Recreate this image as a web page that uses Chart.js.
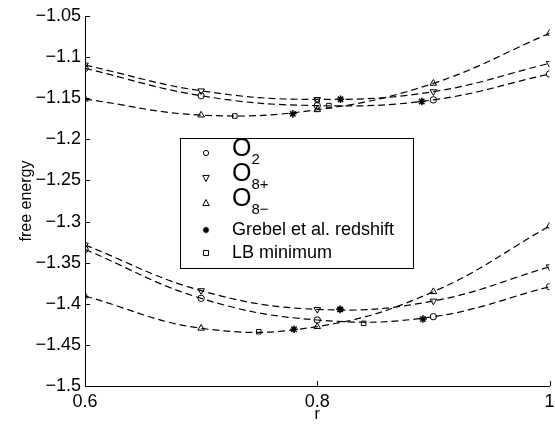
<!DOCTYPE html>
<html>
<head>
    <title>free energy vs r</title>
    <script src="https://cdn.jsdelivr.net/npm/chart.js"></script>
    <style>
        body {
            margin: 0;
            padding: 0;
            background: #fff;
        }
        #chart-container {
            width: 555px;
            height: 429px;
        }
    </style>
</head>
<body>

<div id="chart-container">
    <canvas id="energyChart" width="555" height="429"></canvas>
</div>

<script>
    // r values where the three fits were sampled
    const rValues = [0.6, 0.7, 0.8, 0.9, 1.0];

    // upper family
    const o2Upper  = [-1.1136, -1.147, -1.159, -1.152, -1.1205];
    const o8pUpper = [-1.1096, -1.141, -1.1515, -1.142, -1.1076];
    const o8mUpper = [-1.151, -1.1705, -1.164, -1.1319, -1.071];

    // lower family
    const o2Lower  = [-1.3338, -1.3934, -1.4197, -1.4157, -1.3792];
    const o8pLower = [-1.3285, -1.384, -1.4068, -1.3966, -1.355];
    const o8mLower = [-1.3905, -1.4298, -1.4278, -1.3853, -1.3054];

    // Grebel et al. redshift markers
    const grebelR = [0.779, 0.82, 0.89, 0.780, 0.8195, 0.891];
    const grebelF = [-1.169, -1.1513, -1.154, -1.431, -1.4068, -1.4185];

    // LB minimum markers
    const lbR = [0.729, 0.80, 0.81, 0.7496, 0.82, 0.840];
    const lbF = [-1.1716, -1.152, -1.159, -1.434, -1.4068, -1.4238];

    const yTicks = [-1.5, -1.45, -1.4, -1.35, -1.3, -1.25, -1.2, -1.15, -1.1, -1.05];
    const xTicks = [0.6, 0.8, 1];

    function pairs(xs, ys) {
        return xs.map((x, i) => ({x: x, y: ys[i]}));
    }

    function fitLine(ys, style, rot) {
        return {
            data: pairs(rValues, ys),
            showLine: true,
            tension: 0.4,
            borderColor: '#000',
            borderWidth: 1.2,
            borderDash: [7, 4],
            pointStyle: style,
            rotation: rot,
            pointRadius: style === 'circle' ? 3.2 : 3.8,
            pointBorderWidth: 1,
            pointBorderColor: '#000',
            pointBackgroundColor: 'rgba(0,0,0,0)'
        };
    }

    function markerSet(xs, ys, style, r) {
        return {
            data: pairs(xs, ys),
            showLine: false,
            pointStyle: style,
            pointRadius: r,
            pointBorderWidth: style === 'star' ? 1.5 : 1,
            pointBorderColor: '#000',
            pointBackgroundColor: 'rgba(0,0,0,0)'
        };
    }

    function fmt(v) {
        const s = String(Math.round(v * 100) / 100);
        return s.replace('-', '\u2212');
    }

    function drawMarker(ctx, style, x, y, r, rot) {
        ctx.save();
        ctx.translate(x, y);
        ctx.rotate((rot || 0) * Math.PI / 180);
        ctx.beginPath();
        if (style === 'circle') {
            ctx.arc(0, 0, r, 0, Math.PI * 2);
        } else if (style === 'triangle') {
            ctx.moveTo(0, -r * 1.1);
            ctx.lineTo(r, r * 0.8);
            ctx.lineTo(-r, r * 0.8);
            ctx.closePath();
        } else if (style === 'rect') {
            ctx.rect(-r * 0.8, -r * 0.8, r * 1.6, r * 1.6);
        } else if (style === 'star') {
            for (let a = 0; a < 4; a++) {
                const t = a * Math.PI / 4;
                ctx.moveTo(-r * Math.cos(t), -r * Math.sin(t));
                ctx.lineTo(r * Math.cos(t), r * Math.sin(t));
            }
            ctx.lineWidth = 1.5;
        }
        ctx.strokeStyle = '#000';
        ctx.stroke();
        ctx.restore();
    }

    const legendRows = [
        {style: 'circle', rot: 0, main: 'O', sub: '2', y: 153},
        {style: 'triangle', rot: 180, main: 'O', sub: '8+', y: 178},
        {style: 'triangle', rot: 0, main: 'O', sub: '8\u2212', y: 203},
        {style: 'star', rot: 0, main: 'Grebel et al. redshift', sub: '', y: 230},
        {style: 'rect', rot: 0, main: 'LB minimum', sub: '', y: 253}
    ];

    const boxPlugin = {
        id: 'boxPlugin',
        afterDraw(chart) {
            const ctx = chart.ctx;
            const xs = chart.scales.x;
            const ys = chart.scales.y;
            const area = chart.chartArea;

            // inward tick marks
            ctx.save();
            ctx.strokeStyle = '#000';
            ctx.lineWidth = 1;
            ctx.beginPath();
            yTicks.forEach(v => {
                const py = Math.round(ys.getPixelForValue(v)) + 0.5;
                ctx.moveTo(area.left, py);
                ctx.lineTo(area.left + 5, py);
            });
            xTicks.forEach(v => {
                const px = Math.round(xs.getPixelForValue(v)) + 0.5;
                ctx.moveTo(px, area.bottom);
                ctx.lineTo(px, area.bottom - 5);
            });
            ctx.stroke();

            // legend box
            ctx.fillStyle = '#fff';
            ctx.fillRect(180, 138, 233, 130);
            ctx.strokeRect(180.5, 138.5, 233, 130);

            legendRows.forEach(row => {
                drawMarker(ctx, row.style, 206, row.y, row.style === 'circle' ? 2.6 : 3.2, row.rot);
                ctx.fillStyle = '#000';
                ctx.textBaseline = 'middle';
                ctx.textAlign = 'left';
                if (row.sub) {
                    ctx.font = '25px "Liberation Sans", Arial, sans-serif';
                    ctx.fillText(row.main, 232, row.y - 4);
                    const w = ctx.measureText(row.main).width;
                    ctx.font = '15px "Liberation Sans", Arial, sans-serif';
                    ctx.fillText(row.sub, 232 + w, row.y + 7);
                } else {
                    ctx.font = '18px "Liberation Sans", Arial, sans-serif';
                    ctx.fillText(row.main, 232, row.y);
                }
            });
            ctx.restore();
        }
    };

    Chart.defaults.font.family = '"Liberation Sans", Arial, sans-serif';
    Chart.defaults.color = '#000';

    new Chart(document.getElementById('energyChart'), {
        type: 'scatter',
        data: {
            datasets: [
                fitLine(o2Upper, 'circle', 0),
                fitLine(o8pUpper, 'triangle', 180),
                fitLine(o8mUpper, 'triangle', 0),
                fitLine(o2Lower, 'circle', 0),
                fitLine(o8pLower, 'triangle', 180),
                fitLine(o8mLower, 'triangle', 0),
                markerSet(grebelR, grebelF, 'star', 3.8),
                markerSet(lbR, lbF, 'rect', 3.2)
            ]
        },
        options: {
            responsive: false,
            animation: false,
            maintainAspectRatio: false,
            layout: {
                padding: {top: 16, right: 4, left: 0, bottom: 0}
            },
            plugins: {
                legend: {display: false},
                tooltip: {enabled: false}
            },
            scales: {
                x: {
                    type: 'linear',
                    min: 0.6,
                    max: 1,
                    afterBuildTicks: scale => {
                        scale.ticks = xTicks.map(v => ({value: v}));
                    },
                    afterFit: scale => {
                        scale.height = 43;
                        scale.paddingLeft = 0;
                        scale.paddingRight = 0;
                    },
                    grid: {display: false, drawTicks: false},
                    border: {display: true, color: '#000', width: 1},
                    ticks: {
                        padding: 5,
                        font: {size: 18},
                        maxRotation: 0,
                        callback: v => fmt(v)
                    },
                    title: {
                        display: true,
                        text: 'r',
                        font: {size: 16},
                        padding: {top: 0, bottom: 5}
                    }
                },
                y: {
                    type: 'linear',
                    min: -1.5,
                    max: -1.05,
                    afterBuildTicks: scale => {
                        scale.ticks = yTicks.map(v => ({value: v}));
                    },
                    afterFit: scale => {
                        scale.width = 85;
                        scale.paddingTop = 0;
                        scale.paddingBottom = 0;
                    },
                    grid: {display: false, drawTicks: false},
                    border: {display: true, color: '#000', width: 1},
                    ticks: {
                        padding: 4,
                        font: {size: 18},
                        autoSkip: false,
                        callback: v => fmt(v)
                    },
                    title: {
                        display: true,
                        text: 'free energy',
                        font: {size: 16},
                        padding: {top: 17, bottom: 0}
                    }
                }
            }
        },
        plugins: [boxPlugin]
    });
</script>

</body>
</html>
